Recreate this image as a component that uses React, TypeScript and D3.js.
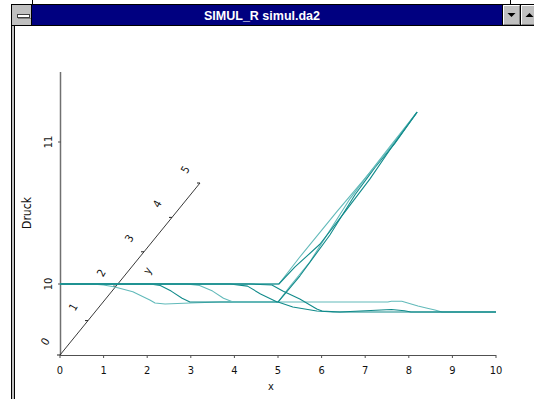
import React, { useEffect, useRef } from 'react'
import * as d3 from 'd3'

// x positions and pressure ("Druck") values, front plane (y = 0)
const xTicks = [0, 1, 2, 3, 4, 5, 6, 7, 8, 9, 10]
const zTicks = [10, 11]
const yTicks = [0, 1, 2, 3, 4, 5]

const curveA: [number, number][] = [
  [0, 10], [0.73, 10], [1.0, 9.993], [1.26, 9.979], [1.67, 9.945], [2.06, 9.887], [2.18, 9.866], [2.41, 9.859],
  [2.98, 9.866], [3.67, 9.873], [5.0, 9.873], [7.52, 9.873], [7.6, 9.878], [7.84, 9.878],
  [8.21, 9.845], [8.4, 9.831], [8.6, 9.817], [8.76, 9.803], [10, 9.803],
]
const curveB: [number, number][] = [
  [0, 10], [2.06, 10], [2.3, 9.99], [2.55, 9.95], [2.8, 9.9], [2.98, 9.873], [5.0, 9.873],
  [5.34, 9.838], [5.89, 9.81], [6.26, 9.803], [10, 9.803],
]
const curveC: [number, number][] = [
  [0, 10], [2.9, 10], [3.2, 9.99], [3.5, 9.95], [3.75, 9.9], [3.97, 9.873], [5.0, 9.873],
  [5.28, 9.986], [5.73, 10.155], [6.65, 10.6], [7.04, 10.76], [7.57, 10.97], [8.19, 11.21],
]
const curveD: [number, number][] = [
  [0, 10], [3.9, 10], [4.3, 9.985], [4.6, 9.93], [4.98, 9.873], [5.0, 9.873],
  [5.5, 10.056], [6.19, 10.345], [6.77, 10.63], [7.22, 10.82], [7.68, 10.99], [8.19, 11.21],
]
const curveE: [number, number][] = [
  [0, 10], [5.02, 10], [5.5, 10.19], [6.35, 10.51], [7.18, 10.81], [7.57, 10.96], [8.19, 11.21],
]
const curveF: [number, number][] = [
  [0, 10], [5.02, 10], [5.39, 10.12], [5.96, 10.28], [6.54, 10.51], [7.11, 10.74], [7.61, 10.965], [8.19, 11.21],
]
const curveG: [number, number][] = [
  [0, 10], [4.36, 10], [4.86, 9.993], [5.11, 9.951], [5.5, 9.894], [5.89, 9.824], [6.01, 9.81],
  [6.42, 9.803], [7.6, 9.82], [7.9, 9.812], [8.05, 9.803], [10, 9.803],
]
const curves = [curveA, curveB, curveC, curveD, curveE, curveF, curveG]
const curveColors = ['#62baba', '#108a8a', '#62baba', '#108a8a', '#62baba', '#108a8a', '#108a8a']

const buildChart = () => {
  const width = 534
  const height = 399
  const font = "'DejaVu Sans Condensed', 'Liberation Sans Narrow', sans-serif"

  const x = d3.scaleLinear().domain([0, 10]).range([60, 496])
  const z = d3.scaleLinear().domain([9.5, 11.5]).range([355, 71])
  // oblique depth axis
  const yx = d3.scaleLinear().domain([0, 5]).range([60, 200])
  const yy = d3.scaleLinear().domain([0, 5]).range([355, 183])

  const svg = d3
    .create('svg')
    .attr('width', width)
    .attr('height', height)
    .attr('viewBox', [0, 0, width, height])
    .attr('style', 'position:absolute;left:0;top:0;background:#fff')

  // window frame
  svg.append('rect').attr('x', 11).attr('y', 4).attr('width', 4).attr('height', height).attr('fill', '#c0c0c0')
  svg.append('line').attr('x1', 11.5).attr('x2', 11.5).attr('y1', 4).attr('y2', height).attr('stroke', '#000')
  svg.append('line').attr('x1', 14.5).attr('x2', 14.5).attr('y1', 25).attr('y2', height).attr('stroke', '#000')
  svg.append('line').attr('x1', 11).attr('x2', width).attr('y1', 4.5).attr('y2', 4.5).attr('stroke', '#000')
  svg.append('line').attr('x1', 32.5).attr('x2', 32.5).attr('y1', 0).attr('y2', 5).attr('stroke', '#000')
  svg.append('line').attr('x1', 510.5).attr('x2', 510.5).attr('y1', 0).attr('y2', 5).attr('stroke', '#000')

  // system menu box
  svg.append('rect').attr('x', 12).attr('y', 5).attr('width', 20).attr('height', 20).attr('fill', '#c0c0c0')
  svg.append('line').attr('x1', 31.5).attr('x2', 31.5).attr('y1', 5).attr('y2', 25).attr('stroke', '#000')
  svg.append('rect').attr('x', 17.5).attr('y', 14.5).attr('width', 12).attr('height', 3)
    .attr('fill', '#fff').attr('stroke', '#404040')
  svg.append('line').attr('x1', 18).attr('x2', 31).attr('y1', 18.5).attr('y2', 18.5).attr('stroke', '#808080')

  // title bar
  svg.append('rect').attr('x', 32).attr('y', 5).attr('width', 471).attr('height', 20).attr('fill', '#000080')
  svg.append('line').attr('x1', 11).attr('x2', width).attr('y1', 25.5).attr('y2', 25.5).attr('stroke', '#000')
  svg.append('text').attr('x', 262).attr('y', 20).attr('text-anchor', 'middle')
    .attr('fill', '#fff').attr('font-family', 'Liberation Sans, Arial, sans-serif')
    .attr('font-size', 12.5).attr('font-weight', 'bold').text('SIMUL_R simul.da2')

  // title bar buttons
  ;[{ bx: 503, up: false }, { bx: 521, up: true }].forEach(({ bx, up }) => {
    svg.append('rect').attr('x', bx).attr('y', 5).attr('width', 17).attr('height', 20).attr('fill', '#c0c0c0')
    svg.append('path').attr('d', `M${bx + 0.5},24 V5.5 H${bx + 16}`).attr('fill', 'none').attr('stroke', '#fff')
    svg.append('path').attr('d', `M${bx + 1},24.5 H${bx + 16.5} V6`).attr('fill', 'none').attr('stroke', '#808080')
    svg.append('line').attr('x1', bx - 0.5).attr('x2', bx - 0.5).attr('y1', 5).attr('y2', 25).attr('stroke', '#000')
    const cx = bx + 8.5
    const tri = up ? `M${cx - 4},17 L${cx + 4},17 L${cx},13 Z` : `M${cx - 4},13 L${cx + 4},13 L${cx},17 Z`
    svg.append('path').attr('d', tri).attr('fill', '#000')
  })

  // vertical (Druck) axis
  svg.append('line').attr('x1', 60.5).attr('x2', 60.5).attr('y1', 72).attr('y2', 355)
    .attr('stroke', '#707070').attr('stroke-width', 1.5)
  zTicks.forEach((t) => {
    svg.append('line').attr('x1', 58).attr('x2', 61).attr('y1', z(t)).attr('y2', z(t)).attr('stroke', '#505050')
    svg.append('text').attr('transform', `translate(52,${z(t)}) rotate(-90)`).attr('text-anchor', 'middle')
      .attr('font-family', font).attr('font-size', 11).attr('fill', '#111').text(t)
  })
  svg.append('text').attr('transform', 'translate(31,213) rotate(-90)').attr('text-anchor', 'middle')
    .attr('font-family', font).attr('font-size', 12).attr('fill', '#111').text('Druck')

  // x axis
  svg.append('line').attr('x1', 60).attr('x2', 496).attr('y1', 355.5).attr('y2', 355.5)
    .attr('stroke', '#505050').attr('stroke-width', 1.2)
  xTicks.forEach((t) => {
    svg.append('line').attr('x1', x(t)).attr('x2', x(t)).attr('y1', 355).attr('y2', 358).attr('stroke', '#505050')
    svg.append('text').attr('x', x(t)).attr('y', 374).attr('text-anchor', 'middle')
      .attr('font-family', font).attr('font-size', 11).attr('fill', '#111').text(t)
  })
  svg.append('text').attr('x', 271).attr('y', 390).attr('text-anchor', 'middle')
    .attr('font-family', font).attr('font-size', 11).attr('fill', '#111').text('x')

  // oblique y axis
  svg.append('line').attr('x1', yx(0)).attr('y1', yy(0)).attr('x2', yx(5)).attr('y2', yy(5))
    .attr('stroke', '#222').attr('stroke-width', 0.9)
  yTicks.forEach((t) => {
    svg.append('line').attr('x1', yx(t) - 3).attr('x2', yx(t)).attr('y1', yy(t)).attr('y2', yy(t)).attr('stroke', '#222')
    svg.append('text').attr('transform', `translate(${yx(t) - 14},${yy(t) - 13}) rotate(-60)`)
      .attr('text-anchor', 'middle').attr('dominant-baseline', 'middle')
      .attr('font-family', font).attr('font-size', 11).attr('fill', '#111').text(t)
  })
  svg.append('text').attr('transform', `translate(${yx(2.5) + 18},${yy(2.5) + 2}) rotate(-60)`)
    .attr('text-anchor', 'middle').attr('dominant-baseline', 'middle')
    .attr('font-family', font).attr('font-size', 11).attr('fill', '#111').text('y')

  // pressure curves
  const line = d3.line<[number, number]>().x((d) => x(d[0])).y((d) => z(d[1]))
  svg.append('g').selectAll('path').data(curves).join('path')
    .attr('d', (d) => line(d))
    .attr('fill', 'none')
    .attr('stroke', (d, i) => curveColors[i])
    .attr('stroke-width', 1.1)
    .attr('stroke-linejoin', 'round')

  return svg.node()!
}

const App = () => {
  const ref = useRef<HTMLDivElement>(null)

  useEffect(() => {
    d3.select(ref.current).selectAll('*').remove()
    ref.current!.appendChild(buildChart())
  }, [])

  return <div ref={ref}></div>
}

export default App
